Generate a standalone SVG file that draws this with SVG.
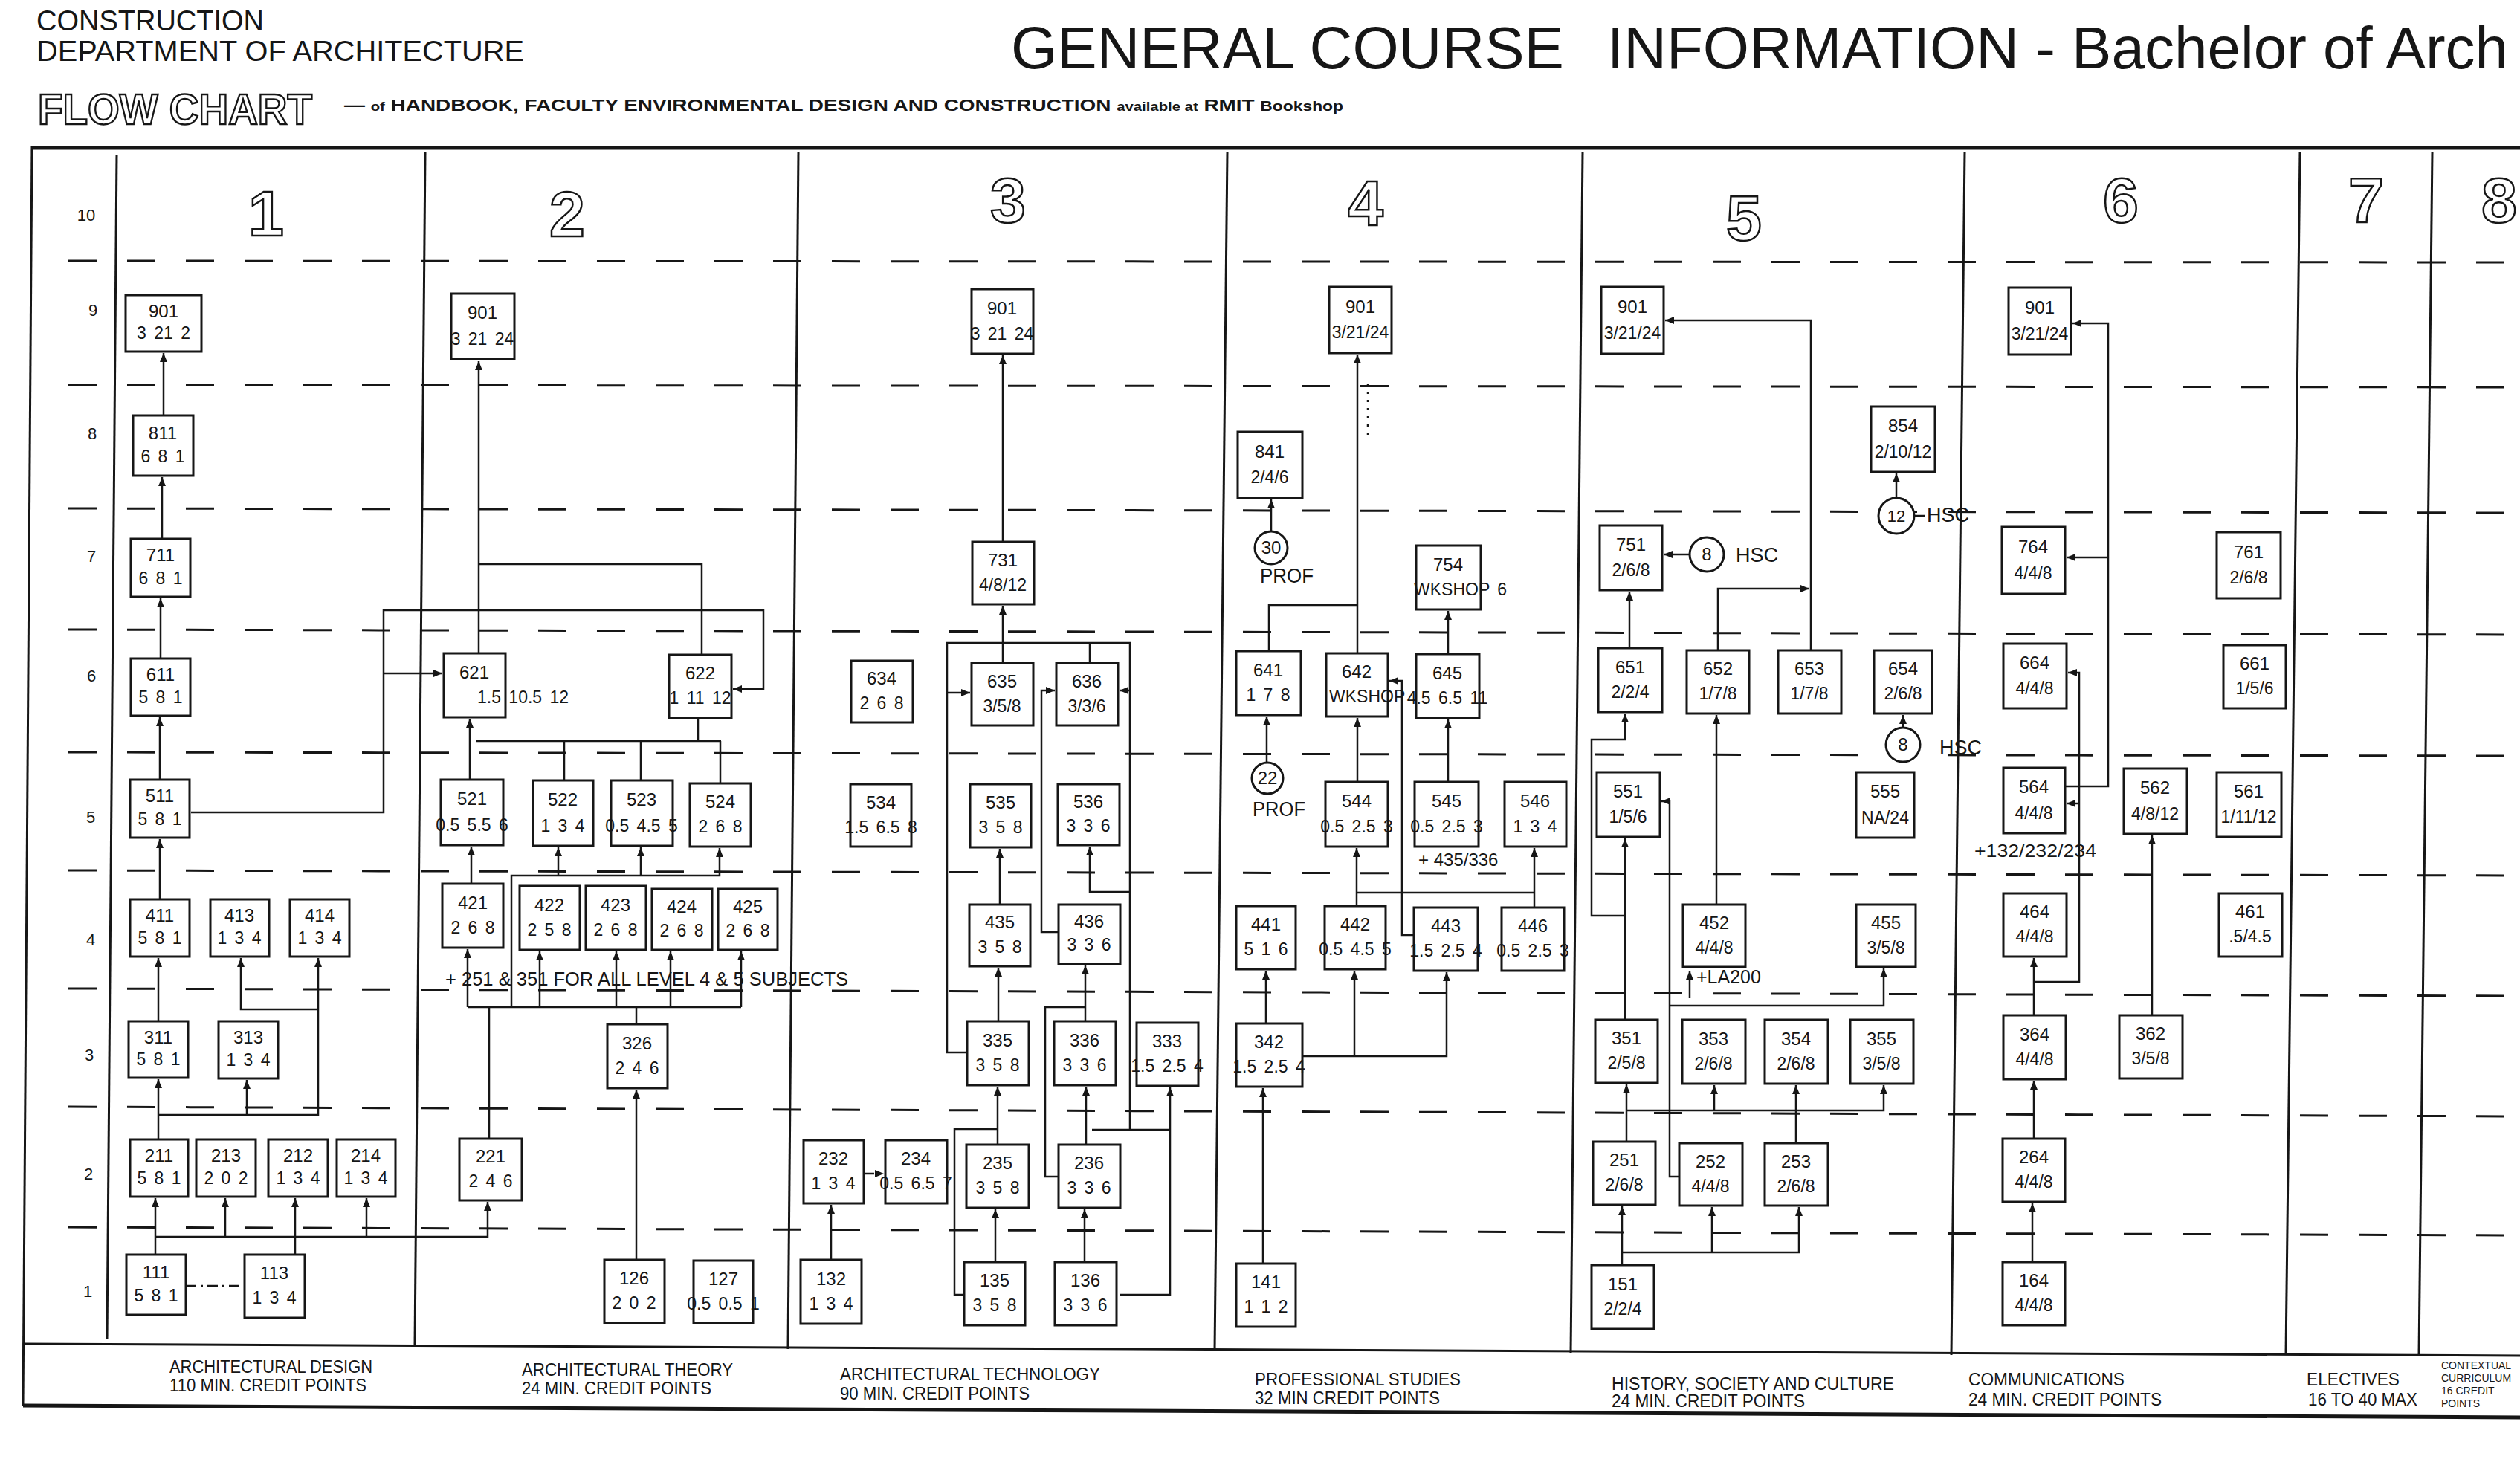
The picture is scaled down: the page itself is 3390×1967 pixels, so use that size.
<svg xmlns="http://www.w3.org/2000/svg" width="3390" height="1967" viewBox="0 0 3390 1967">
<style>
text{font-family:"Liberation Sans",Arial,sans-serif;fill:#161616}
.nd rect{fill:#fff;stroke:#161616;stroke-width:3}
.nd text{font-size:24px;text-anchor:middle}
.nd .v{font-size:23px;word-spacing:4px}
.nd .s{text-anchor:start}
.cn path{fill:none;stroke:#161616;stroke-width:2.5}
.cn .ar{marker-end:url(#ah)}
.cn .dd{stroke-dasharray:14 6 3 6}
.cn .dt{stroke-dasharray:3 8}
.row line{stroke:#161616;stroke-width:3;stroke-dasharray:38 41}
.frame line{stroke:#161616;stroke-width:3}
.frame .thick{stroke-width:5}
.colnum{font-size:86px;font-weight:bold;fill:#fff;stroke:#161616;stroke-width:2.5;text-anchor:middle}
.outl{font-size:58px;font-weight:bold;fill:#fff;stroke:#161616;stroke-width:2.5}
.rl{font-size:22px;text-anchor:middle}
.lab{font-size:23px}
.lab8{font-size:14px}
.circ circle{fill:#fff;stroke:#161616;stroke-width:3}
.circ text{font-size:24px;text-anchor:middle}
.note{font-size:26px}
</style>
<defs>
<marker id="ah" viewBox="0 0 12 10" refX="12" refY="5" markerWidth="12" markerHeight="10" markerUnits="userSpaceOnUse" orient="auto"><path d="M0,0 L12,5 L0,10 Z" fill="#161616"/></marker>
</defs>
<rect width="3390" height="1967" fill="#fff"/>

<g id="header">
<text x="49" y="41" font-size="39" textLength="306" lengthAdjust="spacingAndGlyphs">CONSTRUCTION</text>
<text x="49" y="82" font-size="39" textLength="656" lengthAdjust="spacingAndGlyphs">DEPARTMENT OF ARCHITECTURE</text>
<text class="outl" x="51" y="167" textLength="369" lengthAdjust="spacingAndGlyphs">FLOW CHART</text>
<text x="463" y="149" font-family="Liberation Serif, Times New Roman, serif" font-weight="bold" font-size="22" textLength="1344" lengthAdjust="spacingAndGlyphs">— <tspan font-size="16">of</tspan> HANDBOOK, FACULTY ENVIRONMENTAL DESIGN AND CONSTRUCTION <tspan font-size="16">available at</tspan> RMIT <tspan font-size="18">Bookshop</tspan></text>
<text x="1360" y="92" font-size="80">GENERAL COURSE<tspan x="2162">INFORMATION - Bachelor of Arch</tspan></text>
</g>

<g class="frame">
<line class="thick" x1="43" y1="199" x2="3390" y2="199"/>
<line x1="31" y1="1808" x2="3390" y2="1824"/>
<line class="thick" x1="31" y1="1891" x2="3390" y2="1907"/>
<line x1="43" y1="197" x2="31" y2="1891"/>
<line x1="157" y1="208" x2="144" y2="1802"/>
<line x1="572" y1="205" x2="558" y2="1810"/>
<line x1="1074" y1="205" x2="1060" y2="1815"/>
<line x1="1651" y1="205" x2="1634" y2="1818"/>
<line x1="2129" y1="205" x2="2113" y2="1821"/>
<line x1="2643" y1="205" x2="2625" y2="1823"/>
<line x1="3094" y1="205" x2="3075" y2="1823"/>
<line x1="3272" y1="205" x2="3254" y2="1823"/>
</g>

<g class="row">
<line x1="92" y1="351" x2="3390" y2="353"/>
<line x1="92" y1="518" x2="3390" y2="521"/>
<line x1="92" y1="684" x2="3390" y2="690"/>
<line x1="92" y1="847" x2="3390" y2="854"/>
<line x1="92" y1="1012" x2="3390" y2="1017"/>
<line x1="92" y1="1171" x2="3390" y2="1178"/>
<line x1="92" y1="1330" x2="3390" y2="1340"/>
<line x1="92" y1="1489" x2="3390" y2="1502"/>
<line x1="92" y1="1651" x2="3390" y2="1662"/>
</g>

<g id="rowlabels">
<text class="rl" x="116" y="297">10</text>
<text class="rl" x="125" y="425">9</text>
<text class="rl" x="124" y="591">8</text>
<text class="rl" x="123" y="756">7</text>
<text class="rl" x="123" y="917">6</text>
<text class="rl" x="122" y="1107">5</text>
<text class="rl" x="122" y="1272">4</text>
<text class="rl" x="120" y="1427">3</text>
<text class="rl" x="119" y="1587">2</text>
<text class="rl" x="118" y="1745">1</text>
</g>

<g id="colnums">
<text class="colnum" x="358" y="317">1</text>
<text class="colnum" x="763" y="318">2</text>
<text class="colnum" x="1356" y="299">3</text>
<text class="colnum" x="1837" y="303">4</text>
<text class="colnum" x="2346" y="323">5</text>
<text class="colnum" x="2853" y="299">6</text>
<text class="colnum" x="3183" y="299">7</text>
<text class="colnum" x="3362" y="299">8</text>
</g>

<g id="connectors" class="cn">
<path class="ar" d="M220 559V475"/>
<path class="ar" d="M218 725V642"/>
<path class="ar" d="M216 886V805"/>
<path class="ar" d="M215 1049V965"/>
<path class="ar" d="M215 1210V1129"/>
<path class="ar" d="M213 1374V1289"/>
<path class="ar" d="M213 1533V1452"/>
<path class="ar" d="M213 1500H428V1289"/>
<path class="ar" d="M428 1358H324V1289"/>
<path class="ar" d="M332 1500V1453"/>
<path class="ar" d="M209 1688V1612"/>
<path class="ar" d="M209 1664H656V1617"/>
<path class="ar" d="M303 1664V1612"/>
<path class="ar" d="M397 1688V1612"/>
<path class="ar" d="M493 1664V1612"/>
<path class="dd" d="M250 1730H329"/>
<path class="ar" d="M644 879V486"/>
<path d="M944 881V759H644"/>
<path class="ar" d="M257 1093H516V821H1027V927H986"/>
<path class="ar" d="M516 906H595"/>
<path class="ar" d="M632 1049V967"/>
<path d="M641 997H970M759 997V1050M862 997V1050M969 997V1054M939 966V997"/>
<path class="ar" d="M634 1189V1139"/>
<path class="ar" d="M688 1355V1178H968V1141"/>
<path class="ar" d="M751 1178V1140"/>
<path class="ar" d="M862 1178V1140"/>
<path d="M629 1355H997M856 1378V1355M658 1532V1355"/>
<path class="ar" d="M629 1355V1277"/>
<path class="ar" d="M726 1355V1280"/>
<path class="ar" d="M829 1355V1280"/>
<path class="ar" d="M902 1355V1280"/>
<path class="ar" d="M997 1355V1280"/>
<path class="ar" d="M856 1695V1466"/>
<path class="ar" d="M1349 729V478"/>
<path class="ar" d="M1349 892V815"/>
<path d="M1301 1416H1274V865H1520V1520"/>
<path class="ar" d="M1274 932H1305"/>
<path d="M1466 892V865"/>
<path class="ar" d="M1520 929H1506"/>
<path class="ar" d="M1520 1200H1466V1139"/>
<path d="M1469 1520H1574"/>
<path class="ar" d="M1507 1742H1574V1463"/>
<path class="ar" d="M1424 1254H1401V929H1419"/>
<path class="ar" d="M1345 1217V1142"/>
<path class="ar" d="M1343 1374V1302"/>
<path class="ar" d="M1460 1374V1299"/>
<path d="M1424 1583H1406V1355H1460"/>
<path class="ar" d="M1342 1540V1462"/>
<path class="ar" d="M1461 1540V1462"/>
<path d="M1297 1742H1284V1519H1342"/>
<path class="ar" d="M1339 1698V1627"/>
<path class="ar" d="M1459 1698V1627"/>
<path class="ar dd" d="M1162 1579H1189"/>
<path class="ar" d="M1118 1695V1621"/>
<path class="ar" d="M1710 715V672"/>
<path class="ar" d="M1704 1026V964"/>
<path d="M1707 876V814H1826"/>
<path class="ar" d="M1826 879V477"/>
<path class="dt" d="M1840 516V592"/>
<path class="ar" d="M1948 880V822"/>
<path class="ar" d="M1826 1052V966"/>
<path class="ar" d="M1948 1052V968"/>
<path class="ar" d="M1902 1258H1886V916H1869"/>
<path class="ar" d="M1825 1219V1141"/>
<path d="M1825 1201H2064"/>
<path class="ar" d="M2064 1221V1141"/>
<path class="ar" d="M1699 1700V1464"/>
<path class="ar" d="M1703 1377V1306"/>
<path class="ar" d="M1752 1421H1946V1308"/>
<path class="ar" d="M1822 1421V1306"/>
<path class="ar" d="M2436 875V431H2240"/>
<path class="ar" d="M2311 875V792H2434"/>
<path class="ar" d="M2273 746H2238"/>
<path class="ar" d="M2551 670V637"/>
<path d="M2575 694H2590"/>
<path class="ar" d="M2192 872V796"/>
<path class="ar" d="M2560 979V962"/>
<path class="ar" d="M2186 1372V1128"/>
<path class="ar" d="M2186 1232H2141V995H2186V960"/>
<path class="ar" d="M2309 1217V962"/>
<path class="ar" d="M2259 1583H2246V1078H2235"/>
<path class="ar" d="M2246 1353H2534V1303"/>
<path class="ar" d="M2273 1343V1306"/>
<path class="ar" d="M2188 1536V1459"/>
<path class="ar" d="M2188 1494H2534V1460"/>
<path class="ar" d="M2306 1494V1460"/>
<path class="ar" d="M2416 1494V1460"/>
<path d="M2416 1538V1494"/>
<path class="ar" d="M2182 1702V1623"/>
<path class="ar" d="M2182 1685H2420V1624"/>
<path class="ar" d="M2303 1685V1624"/>
<path class="ar" d="M2778 1058H2836V435H2788"/>
<path class="ar" d="M2836 750H2780"/>
<path class="ar" d="M2736 1366V1289"/>
<path class="ar" d="M2736 1321H2797V905H2782"/>
<path class="ar" d="M2797 1081H2780"/>
<path class="ar" d="M2895 1366V1124"/>
<path class="ar" d="M2736 1532V1454"/>
<path class="ar" d="M2734 1698V1619"/>
</g>

<g id="n901-ad" class="nd"><rect x="169" y="397" width="102" height="76"/><text x="220" y="427">901</text><text class="v" x="220" y="456">3 21 2</text></g>
<g id="n811" class="nd"><rect x="179" y="559" width="81" height="81"/><text x="219" y="591">811</text><text class="v" x="219" y="622">6 8 1</text></g>
<g id="n711" class="nd"><rect x="176" y="725" width="80" height="78"/><text x="216" y="755">711</text><text class="v" x="216" y="786">6 8 1</text></g>
<g id="n611" class="nd"><rect x="176" y="886" width="80" height="77"/><text x="216" y="916">611</text><text class="v" x="216" y="946">5 8 1</text></g>
<g id="n511" class="nd"><rect x="175" y="1049" width="80" height="78"/><text x="215" y="1079">511</text><text class="v" x="215" y="1110">5 8 1</text></g>
<g id="n411" class="nd"><rect x="175" y="1210" width="80" height="77"/><text x="215" y="1240">411</text><text class="v" x="215" y="1270">5 8 1</text></g>
<g id="n413" class="nd"><rect x="283" y="1210" width="79" height="77"/><text x="322" y="1240">413</text><text class="v" x="322" y="1270">1 3 4</text></g>
<g id="n414" class="nd"><rect x="390" y="1210" width="80" height="77"/><text x="430" y="1240">414</text><text class="v" x="430" y="1270">1 3 4</text></g>
<g id="n311" class="nd"><rect x="173" y="1374" width="80" height="76"/><text x="213" y="1404">311</text><text class="v" x="213" y="1433">5 8 1</text></g>
<g id="n313" class="nd"><rect x="294" y="1374" width="80" height="77"/><text x="334" y="1404">313</text><text class="v" x="334" y="1434">1 3 4</text></g>
<g id="n211" class="nd"><rect x="175" y="1533" width="78" height="77"/><text x="214" y="1563">211</text><text class="v" x="214" y="1593">5 8 1</text></g>
<g id="n213" class="nd"><rect x="264" y="1533" width="80" height="77"/><text x="304" y="1563">213</text><text class="v" x="304" y="1593">2 0 2</text></g>
<g id="n212" class="nd"><rect x="361" y="1533" width="80" height="77"/><text x="401" y="1563">212</text><text class="v" x="401" y="1593">1 3 4</text></g>
<g id="n214" class="nd"><rect x="453" y="1533" width="79" height="77"/><text x="492" y="1563">214</text><text class="v" x="492" y="1593">1 3 4</text></g>
<g id="n111" class="nd"><rect x="170" y="1688" width="80" height="81"/><text x="210" y="1720">111</text><text class="v" x="210" y="1751">5 8 1</text></g>
<g id="n113" class="nd"><rect x="329" y="1688" width="81" height="85"/><text x="369" y="1721">113</text><text class="v" x="369" y="1754">1 3 4</text></g>

<g id="n901-at" class="nd"><rect x="607" y="395" width="85" height="88"/><text x="649" y="429">901</text><text class="v" x="649" y="464">3 21 24</text></g>
<g id="n621" class="nd"><rect x="597" y="879" width="83" height="86"/><text x="638" y="913">621</text><text class="v s" x="642" y="946">1.5 10.5 12</text></g>
<g id="n622" class="nd"><rect x="900" y="881" width="84" height="85"/><text x="942" y="914">622</text><text class="v" x="942" y="947">1 11 12</text></g>
<g id="n521" class="nd"><rect x="593" y="1049" width="84" height="88"/><text x="635" y="1083">521</text><text class="v" x="635" y="1118">0.5 5.5 6</text></g>
<g id="n522" class="nd"><rect x="717" y="1050" width="81" height="88"/><text x="757" y="1084">522</text><text class="v" x="757" y="1119">1 3 4</text></g>
<g id="n523" class="nd"><rect x="822" y="1050" width="83" height="88"/><text x="863" y="1084">523</text><text class="v" x="863" y="1119">0.5 4.5 5</text></g>
<g id="n524" class="nd"><rect x="928" y="1054" width="82" height="85"/><text x="969" y="1087">524</text><text class="v" x="969" y="1120">2 6 8</text></g>
<g id="n421" class="nd"><rect x="595" y="1189" width="82" height="86"/><text x="636" y="1223">421</text><text class="v" x="636" y="1256">2 6 8</text></g>
<g id="n422" class="nd"><rect x="699" y="1192" width="81" height="86"/><text x="739" y="1226">422</text><text class="v" x="739" y="1259">2 5 8</text></g>
<g id="n423" class="nd"><rect x="788" y="1192" width="81" height="86"/><text x="828" y="1226">423</text><text class="v" x="828" y="1259">2 6 8</text></g>
<g id="n424" class="nd"><rect x="877" y="1196" width="81" height="82"/><text x="917" y="1228">424</text><text class="v" x="917" y="1260">2 6 8</text></g>
<g id="n425" class="nd"><rect x="966" y="1196" width="80" height="82"/><text x="1006" y="1228">425</text><text class="v" x="1006" y="1260">2 6 8</text></g>
<g id="n326" class="nd"><rect x="817" y="1378" width="81" height="86"/><text x="857" y="1412">326</text><text class="v" x="857" y="1445">2 4 6</text></g>
<g id="n221" class="nd"><rect x="618" y="1532" width="84" height="83"/><text x="660" y="1564">221</text><text class="v" x="660" y="1597">2 4 6</text></g>
<g id="n126" class="nd"><rect x="813" y="1695" width="81" height="85"/><text x="853" y="1728">126</text><text class="v" x="853" y="1761">2 0 2</text></g>
<g id="n127" class="nd"><rect x="933" y="1696" width="80" height="84"/><text x="973" y="1729">127</text><text class="v" x="973" y="1762">0.5 0.5 1</text></g>
<text class="note" x="599" y="1326" textLength="542" lengthAdjust="spacingAndGlyphs">+ 251 &amp; 351 FOR ALL LEVEL 4 &amp; 5 SUBJECTS</text>

<g id="n901-tech" class="nd"><rect x="1307" y="389" width="83" height="87"/><text x="1348" y="423">901</text><text class="v" x="1348" y="457">3 21 24</text></g>
<g id="n731" class="nd"><rect x="1308" y="729" width="83" height="84"/><text x="1349" y="762">731</text><text class="v" x="1349" y="795">4/8/12</text></g>
<g id="n634" class="nd"><rect x="1145" y="889" width="83" height="83"/><text x="1186" y="921">634</text><text class="v" x="1186" y="954">2 6 8</text></g>
<g id="n635" class="nd"><rect x="1307" y="892" width="83" height="84"/><text x="1348" y="925">635</text><text class="v" x="1348" y="958">3/5/8</text></g>
<g id="n636" class="nd"><rect x="1421" y="892" width="83" height="84"/><text x="1462" y="925">636</text><text class="v" x="1462" y="958">3/3/6</text></g>
<g id="n534" class="nd"><rect x="1144" y="1055" width="82" height="84"/><text x="1185" y="1088">534</text><text class="v" x="1185" y="1121">1.5 6.5 8</text></g>
<g id="n535" class="nd"><rect x="1305" y="1055" width="82" height="85"/><text x="1346" y="1088">535</text><text class="v" x="1346" y="1121">3 5 8</text></g>
<g id="n536" class="nd"><rect x="1423" y="1055" width="83" height="82"/><text x="1464" y="1087">536</text><text class="v" x="1464" y="1119">3 3 6</text></g>
<g id="n435" class="nd"><rect x="1304" y="1217" width="82" height="83"/><text x="1345" y="1249">435</text><text class="v" x="1345" y="1282">3 5 8</text></g>
<g id="n436" class="nd"><rect x="1424" y="1217" width="83" height="80"/><text x="1465" y="1248">436</text><text class="v" x="1465" y="1279">3 3 6</text></g>
<g id="n335" class="nd"><rect x="1301" y="1374" width="83" height="86"/><text x="1342" y="1408">335</text><text class="v" x="1342" y="1441">3 5 8</text></g>
<g id="n336" class="nd"><rect x="1418" y="1374" width="83" height="86"/><text x="1459" y="1408">336</text><text class="v" x="1459" y="1441">3 3 6</text></g>
<g id="n333" class="nd"><rect x="1529" y="1376" width="83" height="85"/><text x="1570" y="1409">333</text><text class="v" x="1570" y="1442">1.5 2.5 4</text></g>
<g id="n232" class="nd"><rect x="1081" y="1534" width="81" height="85"/><text x="1121" y="1567">232</text><text class="v" x="1121" y="1600">1 3 4</text></g>
<g id="n234" class="nd"><rect x="1191" y="1534" width="83" height="85"/><text x="1232" y="1567">234</text><text class="v" x="1232" y="1600">0.5 6.5 7</text></g>
<g id="n235" class="nd"><rect x="1300" y="1540" width="84" height="85"/><text x="1342" y="1573">235</text><text class="v" x="1342" y="1606">3 5 8</text></g>
<g id="n236" class="nd"><rect x="1424" y="1540" width="83" height="85"/><text x="1465" y="1573">236</text><text class="v" x="1465" y="1606">3 3 6</text></g>
<g id="n132" class="nd"><rect x="1077" y="1695" width="82" height="86"/><text x="1118" y="1729">132</text><text class="v" x="1118" y="1762">1 3 4</text></g>
<g id="n135" class="nd"><rect x="1297" y="1698" width="82" height="85"/><text x="1338" y="1731">135</text><text class="v" x="1338" y="1764">3 5 8</text></g>
<g id="n136" class="nd"><rect x="1419" y="1698" width="83" height="85"/><text x="1460" y="1731">136</text><text class="v" x="1460" y="1764">3 3 6</text></g>

<g id="n901-ps" class="nd"><rect x="1788" y="386" width="84" height="89"/><text x="1830" y="421">901</text><text class="v" x="1830" y="455">3/21/24</text></g>
<g id="n841" class="nd"><rect x="1665" y="581" width="87" height="89"/><text x="1708" y="616">841</text><text class="v" x="1708" y="650">2/4/6</text></g>
<g id="n754" class="nd"><rect x="1905" y="734" width="87" height="86"/><text x="1948" y="768">754</text><text class="v s" x="1902" y="801">WKSHOP 6</text></g>
<g id="n641" class="nd"><rect x="1663" y="876" width="87" height="86"/><text x="1706" y="910">641</text><text class="v" x="1706" y="943">1 7 8</text></g>
<g id="n642" class="nd"><rect x="1784" y="879" width="83" height="85"/><text x="1825" y="912">642</text><text class="v s" x="1788" y="945" font-size="22">WKSHOP</text></g>
<g id="n645" class="nd"><rect x="1905" y="880" width="85" height="86"/><text x="1947" y="914">645</text><text class="v" x="1947" y="947">4.5 6.5 11</text></g>
<g id="n544" class="nd"><rect x="1783" y="1052" width="84" height="87"/><text x="1825" y="1086">544</text><text class="v" x="1825" y="1120">0.5 2.5 3</text></g>
<g id="n545" class="nd"><rect x="1903" y="1052" width="86" height="87"/><text x="1946" y="1086">545</text><text class="v" x="1946" y="1120">0.5 2.5 3</text></g>
<g id="n546" class="nd"><rect x="2024" y="1052" width="83" height="87"/><text x="2065" y="1086">546</text><text class="v" x="2065" y="1120">1 3 4</text></g>
<g id="n441" class="nd"><rect x="1663" y="1219" width="80" height="85"/><text x="1703" y="1252">441</text><text class="v" x="1703" y="1285">5 1 6</text></g>
<g id="n442" class="nd"><rect x="1782" y="1219" width="82" height="85"/><text x="1823" y="1252">442</text><text class="v" x="1823" y="1285">0.5 4.5 5</text></g>
<g id="n443" class="nd"><rect x="1902" y="1221" width="86" height="85"/><text x="1945" y="1254">443</text><text class="v" x="1945" y="1287">1.5 2.5 4</text></g>
<g id="n446" class="nd"><rect x="2020" y="1221" width="84" height="85"/><text x="2062" y="1254">446</text><text class="v" x="2062" y="1287">0.5 2.5 3</text></g>
<g id="n342" class="nd"><rect x="1663" y="1377" width="89" height="85"/><text x="1707" y="1410">342</text><text class="v" x="1707" y="1443">1.5 2.5 4</text></g>
<g id="n141" class="nd"><rect x="1663" y="1700" width="80" height="85"/><text x="1703" y="1733">141</text><text class="v" x="1703" y="1766">1 1 2</text></g>
<g id="c30" class="circ"><circle cx="1710" cy="737" r="22"/><text x="1710" y="745">30</text><text x="1695" y="784" style="text-anchor:start;font-size:27px" textLength="72" lengthAdjust="spacingAndGlyphs">PROF</text></g>
<g id="c22" class="circ"><circle cx="1705" cy="1047" r="21"/><text x="1705" y="1055">22</text><text x="1685" y="1098" style="text-anchor:start;font-size:27px" textLength="71" lengthAdjust="spacingAndGlyphs">PROF</text></g>
<text x="1908" y="1165" font-size="24">+ 435/336</text>

<g id="n901-hsc" class="nd"><rect x="2154" y="386" width="84" height="90"/><text x="2196" y="421">901</text><text class="v" x="2196" y="456">3/21/24</text></g>
<g id="n854" class="nd"><rect x="2517" y="547" width="86" height="88"/><text x="2560" y="581">854</text><text class="v" x="2560" y="616">2/10/12</text></g>
<g id="n751" class="nd"><rect x="2152" y="707" width="84" height="87"/><text x="2194" y="741">751</text><text class="v" x="2194" y="775">2/6/8</text></g>
<g id="n651" class="nd"><rect x="2150" y="872" width="86" height="86"/><text x="2193" y="906">651</text><text class="v" x="2193" y="939">2/2/4</text></g>
<g id="n652" class="nd"><rect x="2269" y="875" width="84" height="85"/><text x="2311" y="908">652</text><text class="v" x="2311" y="941">1/7/8</text></g>
<g id="n653" class="nd"><rect x="2392" y="875" width="85" height="85"/><text x="2434" y="908">653</text><text class="v" x="2434" y="941">1/7/8</text></g>
<g id="n654" class="nd"><rect x="2521" y="875" width="78" height="85"/><text x="2560" y="908">654</text><text class="v" x="2560" y="941">2/6/8</text></g>
<g id="n551" class="nd"><rect x="2148" y="1039" width="85" height="87"/><text x="2190" y="1073">551</text><text class="v" x="2190" y="1107">1/5/6</text></g>
<g id="n555" class="nd"><rect x="2497" y="1039" width="78" height="88"/><text x="2536" y="1073">555</text><text class="v" x="2536" y="1108">NA/24</text></g>
<g id="n452" class="nd"><rect x="2264" y="1217" width="84" height="84"/><text x="2306" y="1250">452</text><text class="v" x="2306" y="1283">4/4/8</text></g>
<g id="n455" class="nd"><rect x="2497" y="1217" width="80" height="84"/><text x="2537" y="1250">455</text><text class="v" x="2537" y="1283">3/5/8</text></g>
<g id="n351" class="nd"><rect x="2146" y="1372" width="84" height="85"/><text x="2188" y="1405">351</text><text class="v" x="2188" y="1438">2/5/8</text></g>
<g id="n353" class="nd"><rect x="2263" y="1372" width="85" height="86"/><text x="2305" y="1406">353</text><text class="v" x="2305" y="1439">2/6/8</text></g>
<g id="n354" class="nd"><rect x="2374" y="1372" width="85" height="86"/><text x="2416" y="1406">354</text><text class="v" x="2416" y="1439">2/6/8</text></g>
<g id="n355" class="nd"><rect x="2489" y="1372" width="85" height="86"/><text x="2531" y="1406">355</text><text class="v" x="2531" y="1439">3/5/8</text></g>
<g id="n251" class="nd"><rect x="2143" y="1536" width="84" height="85"/><text x="2185" y="1569">251</text><text class="v" x="2185" y="1602">2/6/8</text></g>
<g id="n252" class="nd"><rect x="2259" y="1538" width="85" height="84"/><text x="2301" y="1571">252</text><text class="v" x="2301" y="1604">4/4/8</text></g>
<g id="n253" class="nd"><rect x="2374" y="1538" width="85" height="84"/><text x="2416" y="1571">253</text><text class="v" x="2416" y="1604">2/6/8</text></g>
<g id="n151" class="nd"><rect x="2141" y="1702" width="84" height="86"/><text x="2183" y="1736">151</text><text class="v" x="2183" y="1769">2/2/4</text></g>
<g id="c8a" class="circ"><circle cx="2296" cy="746" r="23"/><text x="2296" y="754">8</text><text x="2335" y="756" style="text-anchor:start;font-size:27px">HSC</text></g>
<g id="c12" class="circ"><circle cx="2551" cy="694" r="24"/><text x="2551" y="702" style="font-size:22px">12</text><text x="2592" y="702" style="text-anchor:start;font-size:27px">HSC</text></g>
<g id="c8b" class="circ"><circle cx="2560" cy="1002" r="23"/><text x="2560" y="1010">8</text><text x="2609" y="1015" style="text-anchor:start;font-size:27px">HSC</text></g>
<text x="2282" y="1323" font-size="25">+LA200</text>

<g id="n901-com" class="nd"><rect x="2702" y="387" width="84" height="90"/><text x="2744" y="422">901</text><text class="v" x="2744" y="457">3/21/24</text></g>
<g id="n764" class="nd"><rect x="2693" y="709" width="85" height="90"/><text x="2735" y="744">764</text><text class="v" x="2735" y="779">4/4/8</text></g>
<g id="n761" class="nd"><rect x="2982" y="716" width="86" height="89"/><text x="3025" y="751">761</text><text class="v" x="3025" y="785">2/6/8</text></g>
<g id="n664" class="nd"><rect x="2695" y="866" width="85" height="87"/><text x="2737" y="900">664</text><text class="v" x="2737" y="934">4/4/8</text></g>
<g id="n661" class="nd"><rect x="2991" y="868" width="84" height="85"/><text x="3033" y="901">661</text><text class="v" x="3033" y="934">1/5/6</text></g>
<g id="n564" class="nd"><rect x="2695" y="1033" width="83" height="88"/><text x="2736" y="1067">564</text><text class="v" x="2736" y="1102">4/4/8</text></g>
<g id="n562" class="nd"><rect x="2857" y="1034" width="85" height="88"/><text x="2899" y="1068">562</text><text class="v" x="2899" y="1103">4/8/12</text></g>
<g id="n561" class="nd"><rect x="2982" y="1039" width="87" height="87"/><text x="3025" y="1073">561</text><text class="v" x="3025" y="1107">1/11/12</text></g>
<g id="n464" class="nd"><rect x="2695" y="1202" width="85" height="85"/><text x="2737" y="1235">464</text><text class="v" x="2737" y="1268">4/4/8</text></g>
<g id="n461" class="nd"><rect x="2985" y="1202" width="85" height="85"/><text x="3027" y="1235">461</text><text class="v" x="3027" y="1268">.5/4.5</text></g>
<g id="n364" class="nd"><rect x="2695" y="1366" width="84" height="86"/><text x="2737" y="1400">364</text><text class="v" x="2737" y="1433">4/4/8</text></g>
<g id="n362" class="nd"><rect x="2851" y="1366" width="85" height="85"/><text x="2893" y="1399">362</text><text class="v" x="2893" y="1432">3/5/8</text></g>
<g id="n264" class="nd"><rect x="2694" y="1532" width="84" height="85"/><text x="2736" y="1565">264</text><text class="v" x="2736" y="1598">4/4/8</text></g>
<g id="n164" class="nd"><rect x="2694" y="1698" width="84" height="85"/><text x="2736" y="1731">164</text><text class="v" x="2736" y="1764">4/4/8</text></g>
<text x="2656" y="1153" font-size="24" textLength="164" lengthAdjust="spacingAndGlyphs">+132/232/234</text>

<g id="labels">
<text class="lab" x="228" y="1847" textLength="273" lengthAdjust="spacingAndGlyphs">ARCHITECTURAL DESIGN</text>
<text class="lab" x="228" y="1872" textLength="265" lengthAdjust="spacingAndGlyphs">110 MIN. CREDIT POINTS</text>
<text class="lab" x="702" y="1851" textLength="284" lengthAdjust="spacingAndGlyphs">ARCHITECTURAL THEORY</text>
<text class="lab" x="702" y="1876" textLength="255" lengthAdjust="spacingAndGlyphs">24 MIN. CREDIT POINTS</text>
<text class="lab" x="1130" y="1857" textLength="350" lengthAdjust="spacingAndGlyphs">ARCHITECTURAL TECHNOLOGY</text>
<text class="lab" x="1130" y="1883" textLength="255" lengthAdjust="spacingAndGlyphs">90 MIN. CREDIT POINTS</text>
<text class="lab" x="1688" y="1864" textLength="277" lengthAdjust="spacingAndGlyphs">PROFESSIONAL STUDIES</text>
<text class="lab" x="1688" y="1889" textLength="249" lengthAdjust="spacingAndGlyphs">32 MIN CREDIT POINTS</text>
<text class="lab" x="2168" y="1870" textLength="380" lengthAdjust="spacingAndGlyphs">HISTORY, SOCIETY AND CULTURE</text>
<text class="lab" x="2168" y="1893" textLength="260" lengthAdjust="spacingAndGlyphs">24 MIN. CREDIT POINTS</text>
<text class="lab" x="2648" y="1864" textLength="210" lengthAdjust="spacingAndGlyphs">COMMUNICATIONS</text>
<text class="lab" x="2648" y="1891" textLength="260" lengthAdjust="spacingAndGlyphs">24 MIN. CREDIT POINTS</text>
<text class="lab" x="3103" y="1864" textLength="125" lengthAdjust="spacingAndGlyphs">ELECTIVES</text>
<text class="lab" x="3105" y="1891" textLength="147" lengthAdjust="spacingAndGlyphs">16 TO 40 MAX</text>
<text class="lab8" x="3284" y="1842">CONTEXTUAL</text>
<text class="lab8" x="3284" y="1859">CURRICULUM</text>
<text class="lab8" x="3284" y="1876">16 CREDIT</text>
<text class="lab8" x="3284" y="1893">POINTS</text>
</g>
</svg>
